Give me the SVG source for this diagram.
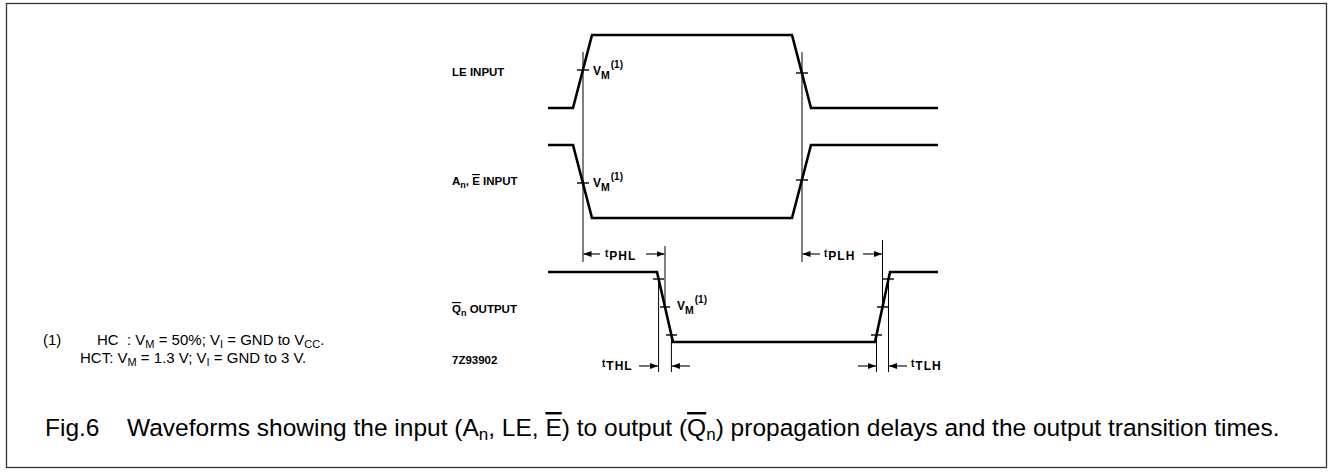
<svg xmlns="http://www.w3.org/2000/svg" width="1333" height="472" viewBox="0 0 1333 472">
<style>
.frame{fill:#fff;stroke:#333;stroke-width:1.3}
.wave{fill:none;stroke:#000;stroke-width:2.6;stroke-linejoin:miter}
.ref{fill:none;stroke:#000;stroke-width:1}
.tick{fill:none;stroke:#000;stroke-width:1.4}
.dim{fill:none;stroke:#000;stroke-width:1.1}
.lbl{font-family:"Liberation Sans",Arial,sans-serif;font-weight:bold;font-size:11.5px;fill:#000}
.sm{font-family:"Liberation Sans",Arial,sans-serif;font-weight:bold;fill:#000}
.note{font-family:"Liberation Sans",Arial,sans-serif;font-size:15px;fill:#000}
.cap{font-family:"Liberation Sans",Arial,sans-serif;font-size:24.5px;fill:#000}
</style>
<defs>
<marker id="ah" viewBox="0 0 8 6" refX="8" refY="3" markerWidth="8" markerHeight="6" markerUnits="userSpaceOnUse" orient="auto">
<path d="M0,0 L8,3 L0,6 Z" fill="#000"/>
</marker>
</defs>
<rect class="frame" x="6.5" y="3.5" width="1320" height="464"/>

<g id="le-input">
<text class="lbl" x="452" y="76">LE INPUT</text>
<path class="wave" d="M548,108 L573,108 L592,35 L792,35 L811,108 L938,108"/>
<line class="tick" x1="577" y1="70" x2="589" y2="70"/>
<line class="tick" x1="796" y1="73" x2="808" y2="73"/>
<text class="sm" x="593" y="75" font-size="12">V<tspan font-size="10.5" dy="4">M</tspan><tspan font-size="10" dy="-11" dx="1">(1)</tspan></text>
</g>

<g id="an-input">
<text class="lbl" x="452" y="185">A<tspan font-size="9" dy="3">n</tspan><tspan dy="-3">, </tspan><tspan style="text-decoration:overline">E</tspan> INPUT</text>
<path class="wave" d="M548,145 L573,145 L592,218 L792,218 L811,145 L938,145"/>
<line class="tick" x1="577" y1="183" x2="589" y2="183"/>
<line class="tick" x1="796" y1="180" x2="808" y2="180"/>
<text class="sm" x="593" y="187" font-size="12">V<tspan font-size="10.5" dy="4">M</tspan><tspan font-size="10" dy="-11" dx="1">(1)</tspan></text>
</g>

<g id="qn-output">
<text class="lbl" x="452" y="313"><tspan style="text-decoration:overline">Q</tspan><tspan font-size="9" dy="3">n</tspan><tspan dy="-3"> OUTPUT</tspan></text>
<path class="wave" d="M548,272 L657,272 L673,342 L875,342 L890,272 L938,272"/>
<line class="tick" x1="653" y1="279" x2="664" y2="279"/>
<line class="tick" x1="660" y1="307" x2="670" y2="307"/>
<line class="tick" x1="666" y1="335" x2="677" y2="335"/>
<line class="tick" x1="871" y1="335" x2="882" y2="335"/>
<line class="tick" x1="877" y1="307" x2="888" y2="307"/>
<line class="tick" x1="883" y1="279" x2="894" y2="279"/>
<text class="sm" x="677" y="310" font-size="12">V<tspan font-size="10.5" dy="4">M</tspan><tspan font-size="10" dy="-11" dx="1">(1)</tspan></text>
</g>

<g id="code">
<text class="lbl" x="452" y="364">7Z93902</text>
</g>

<g id="connectors">
<line class="ref" x1="583" y1="52" x2="583" y2="262"/>
<line class="ref" x1="802" y1="52" x2="802" y2="262"/>
<line class="ref" x1="665" y1="246" x2="665" y2="307"/>
<line class="ref" x1="658.6" y1="279" x2="658.6" y2="372"/>
<line class="ref" x1="671.4" y1="335" x2="671.4" y2="372"/>
<line class="ref" x1="882.5" y1="240" x2="882.5" y2="307"/>
<line class="ref" x1="876.5" y1="335" x2="876.5" y2="372"/>
<line class="ref" x1="888.5" y1="279" x2="888.5" y2="372"/>
<line class="dim" x1="600" y1="254" x2="583.5" y2="254" marker-end="url(#ah)"/>
<line class="dim" x1="646" y1="254" x2="664.5" y2="254" marker-end="url(#ah)"/>
<line class="dim" x1="820" y1="254" x2="802.5" y2="254" marker-end="url(#ah)"/>
<line class="dim" x1="863" y1="254" x2="882" y2="254" marker-end="url(#ah)"/>
<line class="dim" x1="639" y1="366" x2="658" y2="366" marker-end="url(#ah)"/>
<line class="dim" x1="690" y1="366" x2="672" y2="366" marker-end="url(#ah)"/>
<line class="dim" x1="858" y1="366" x2="876" y2="366" marker-end="url(#ah)"/>
<line class="dim" x1="907" y1="366" x2="889" y2="366" marker-end="url(#ah)"/>
</g>

<g id="timing-labels">
<text class="sm" x="605" y="257" font-size="10">t<tspan font-size="12" dy="3" dx="1" letter-spacing="1">PHL</tspan></text>
<text class="sm" x="824" y="257" font-size="10">t<tspan font-size="12" dy="3" dx="1" letter-spacing="1">PLH</tspan></text>
<text class="sm" x="602" y="367" font-size="10">t<tspan font-size="12" dy="3" dx="1" letter-spacing="1">THL</tspan></text>
<text class="sm" x="911" y="367" font-size="10">t<tspan font-size="12" dy="3" dx="1" letter-spacing="1">TLH</tspan></text>
</g>

<g id="footnote">
<text class="note" x="43" y="345">(1)</text>
<text class="note" x="97" y="345">HC&#160;&#160;: V<tspan font-size="11" dy="3">M</tspan><tspan dy="-3"> = 50%; V</tspan><tspan font-size="11" dy="3">I</tspan><tspan dy="-3"> = GND to V</tspan><tspan font-size="11" dy="3">CC</tspan><tspan dy="-3">.</tspan></text>
<text class="note" x="80" y="363">HCT: V<tspan font-size="11" dy="3">M</tspan><tspan dy="-3"> = 1.3 V; V</tspan><tspan font-size="11" dy="3">I</tspan><tspan dy="-3"> = GND to 3 V.</tspan></text>
</g>

<g id="caption">
<text class="cap" x="45" y="436">Fig.6</text>
<text class="cap" x="127" y="436">Waveforms showing the input (A<tspan font-size="17" dy="4">n</tspan><tspan dy="-4">, LE, </tspan><tspan style="text-decoration:overline">E</tspan>) to output (<tspan style="text-decoration:overline">Q</tspan><tspan font-size="17" dy="4">n</tspan><tspan dy="-4">) propagation delays and the output transition times.</tspan></text>
</g>
</svg>
